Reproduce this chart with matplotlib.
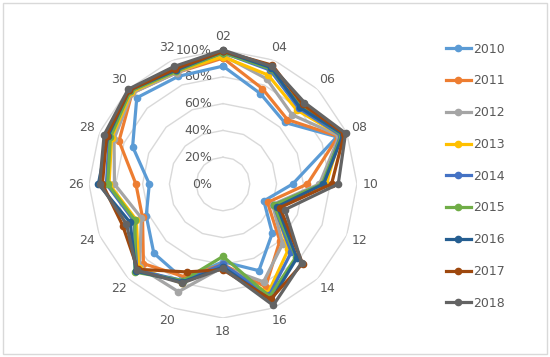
import matplotlib
matplotlib.use("Agg")
import matplotlib.pyplot as plt
import numpy as np
from matplotlib.patches import Rectangle

categories = ["02", "04", "06", "08", "10", "12", "14", "16",
              "18", "20", "22", "24", "26", "28", "30", "32"]
years = ["2010", "2011", "2012", "2013", "2014", "2015", "2016", "2017", "2018"]

v2010 = [0.88, 0.73, 0.65, 0.92, 0.52, 0.33, 0.52, 0.70, 0.58, 0.77, 0.73, 0.62, 0.55, 0.73, 0.91, 0.87]
v2011 = [0.94, 0.77, 0.68, 0.93, 0.63, 0.36, 0.60, 0.83, 0.60, 0.75, 0.84, 0.65, 0.65, 0.84, 0.96, 0.90]
v2012 = [0.96, 0.85, 0.73, 0.94, 0.72, 0.40, 0.63, 0.79, 0.62, 0.87, 0.88, 0.66, 0.81, 0.88, 0.96, 0.90]
v2013 = [0.95, 0.88, 0.78, 0.95, 0.77, 0.42, 0.69, 0.88, 0.61, 0.80, 0.89, 0.70, 0.85, 0.90, 0.97, 0.91]
v2014 = [0.98, 0.92, 0.80, 0.95, 0.75, 0.41, 0.72, 0.90, 0.60, 0.78, 0.91, 0.72, 0.87, 0.92, 0.98, 0.92]
v2015 = [0.98, 0.93, 0.82, 0.96, 0.74, 0.41, 0.77, 0.91, 0.54, 0.78, 0.93, 0.71, 0.86, 0.91, 0.98, 0.91]
v2016 = [0.99, 0.94, 0.81, 0.97, 0.75, 0.44, 0.78, 0.94, 0.62, 0.79, 0.92, 0.75, 0.93, 0.93, 0.99, 0.92]
v2017 = [0.99, 0.96, 0.84, 0.98, 0.81, 0.46, 0.84, 0.93, 0.64, 0.71, 0.90, 0.81, 0.90, 0.94, 0.99, 0.93]
v2018 = [1.00, 0.95, 0.86, 0.99, 0.86, 0.50, 0.83, 0.98, 0.63, 0.80, 0.91, 0.78, 0.92, 0.96, 1.00, 0.95]
series = [v2010, v2011, v2012, v2013, v2014, v2015, v2016, v2017, v2018]

colors = ["#5B9BD5", "#ED7D31", "#A5A5A5", "#FFC000", "#4472C4",
          "#70AD47", "#255E91", "#9E480E", "#636363"]

text_color = "#595959"
grid_color = "#d9d9d9"

fig = plt.figure(figsize=(5.5, 3.57), dpi=100)
fig.patches.append(Rectangle((0.005, 0.008), 0.99, 0.984, transform=fig.transFigure,
                             fill=False, edgecolor=grid_color, linewidth=1))

ax = fig.add_axes([0.1618, 0.1092, 0.4873, 0.7507], projection="polar")
ax.set_theta_zero_location("N")
ax.set_theta_direction(-1)
ax.set_ylim(0, 1)
ax.grid(False)
ax.spines["polar"].set_visible(False)
ax.set_xticks([])
ax.set_yticks([])
ax.patch.set_alpha(0)

n = len(categories)
angles = np.arange(n) * 2 * np.pi / n
closed = np.append(angles, angles[0])

# polygon gridlines, Excel style
for r in [0.2, 0.4, 0.6, 0.8, 1.0]:
    ax.plot(closed, [r] * (n + 1), color=grid_color, linewidth=1, zorder=1)

# radial tick labels along the top axis
for r in [0.0, 0.2, 0.4, 0.6, 0.8, 1.0]:
    ax.annotate(f"{int(r * 100)}%", xy=(0, r), xytext=(-8, 0), textcoords="offset points",
                ha="right", va="center", fontsize=9, color=text_color, zorder=2)

# category labels
for a, lab in zip(angles, categories):
    ax.text(a, 1.10, lab, ha="center", va="center", fontsize=9, color=text_color)

for vals, year, c in zip(series, years, colors):
    ax.plot(closed, vals + [vals[0]], color=c, linewidth=2.3, marker="o",
            markersize=4.5, label=year, zorder=3, clip_on=False)

handles, labels = ax.get_legend_handles_labels()
fig.legend(handles, labels, loc="upper left", bbox_to_anchor=(0.79, 0.912),
           frameon=False, fontsize=9, labelcolor=text_color,
           labelspacing=1.5, handlelength=2.0, handletextpad=0.2)

fig.savefig("out.png", dpi=100)
